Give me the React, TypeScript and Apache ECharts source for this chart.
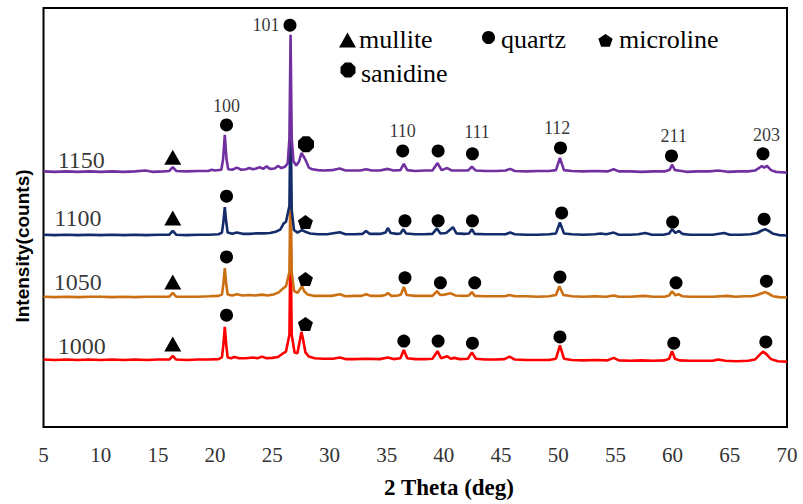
import React, { useEffect, useRef } from 'react';
import * as echarts from 'echarts';

// ---- data ----
const sampleNames = ['1000', '1050', '1100', '1150'];
const sampleOffsets = [16.0, 31.0, 45.8, 60.9];
const lineColors = ['#FF0000', '#CC6F12', '#142C6A', '#7030A0'];

const pattern1000 = [
  [5, 0.1], [6, 0.0], [7, 0.1], [8, 0.0], [9, 0.1], [10, 0.0], [11, 0.1], [12, 0.0], [13, 0.1], [14, 0.0], [15, 0.1],
  [16.0, 0.1], [16.3, 1.0], [16.6, 0.1], [17.5, 0.0], [18.5, 0.1], [19.5, 0.1], [20.3, 0.2], [20.6, 0.6], [20.72, 3.5],
  [20.85, 7.9], [20.98, 3.5], [21.1, 0.6], [21.4, 0.4], [21.7, 0.7], [22.1, 0.4], [22.7, 0.4], [23.3, 0.6], [23.7, 0.4],
  [24.1, 0.8], [24.5, 0.4], [25.0, 0.5], [25.5, 0.7], [25.9, 1.5], [26.2, 2.0], [26.5, 6.0], [26.6, 30.0], [26.7, 6.0],
  [26.95, 1.8], [27.2, 1.6], [27.4, 4.5], [27.55, 6.7], [27.7, 4.8], [27.9, 1.8], [28.2, 0.8], [28.7, 0.4], [29.4, 0.3],
  [30.3, 0.3], [30.9, 0.6], [31.4, 0.2], [32.2, 0.2], [33.2, 0.3], [34.4, 0.2], [35.1, 0.6], [35.6, 0.2], [36.2, 0.4],
  [36.5, 2.4], [36.8, 0.4], [37.5, 0.2], [38.3, 0.2], [39.0, 0.3], [39.45, 2.1], [39.75, 0.4], [40.3, 0.9], [40.6, 0.3],
  [40.9, 0.5], [41.4, 0.2], [42.1, 0.3], [42.45, 1.8], [42.8, 0.3], [43.6, 0.1], [44.6, 0.1], [45.3, 0.2], [45.75, 0.8],
  [46.2, 0.1], [47.2, 0.0], [48.2, 0.0], [49.2, 0.0], [49.8, 0.3], [50.15, 3.5], [50.5, 0.3], [51.2, 0.0], [52.2, -0.1],
  [53.2, 0.0], [54.3, -0.1], [54.85, 0.5], [55.3, -0.1], [56.3, -0.2], [57.3, -0.1], [58.3, -0.2], [59.3, -0.1],
  [59.7, 0.3], [59.95, 2.1], [60.2, 0.3], [60.6, -0.1], [61.5, -0.2], [62.5, -0.2], [63.5, -0.2], [64.0, 0.1],
  [64.6, -0.2], [65.6, -0.3], [66.6, -0.2], [67.2, 0.1], [67.6, 1.2], [67.9, 2.0], [68.2, 1.4], [68.6, 0.2],
  [69.2, -0.3], [70, -0.4],
];

const pattern1050 = [
  [5, 0.1], [6, 0.0], [7, 0.1], [8, 0.0], [9, 0.1], [10, 0.1], [11, 0.0], [12, 0.1], [13, 0.0], [14, 0.1], [15, 0.1],
  [16.0, 0.1], [16.3, 1.0], [16.6, 0.1], [17.5, 0.1], [18.5, 0.1], [19.5, 0.2], [20.3, 0.3], [20.6, 0.6], [20.72, 3.0],
  [20.85, 6.9], [20.98, 3.0], [21.1, 0.6], [21.5, 0.4], [21.9, 0.7], [22.4, 0.4], [23.0, 0.5], [23.5, 0.4], [24.1, 0.6],
  [24.6, 0.4], [25.2, 0.7], [25.6, 1.2], [26.0, 2.2], [26.2, 2.6], [26.5, 6.0], [26.6, 30.0], [26.7, 6.0], [26.9, 1.5],
  [27.2, 1.0], [27.45, 2.0], [27.6, 2.6], [27.8, 1.4], [28.1, 0.6], [28.6, 0.3], [29.3, 0.3], [30.2, 0.3], [30.9, 0.7],
  [31.4, 0.2], [32.2, 0.3], [32.8, 0.3], [33.2, 0.7], [33.6, 0.3], [34.5, 0.3], [34.9, 0.5], [35.1, 1.0], [35.4, 0.3],
  [36.0, 0.4], [36.25, 0.6], [36.5, 2.4], [36.75, 0.5], [37.5, 0.3], [38.3, 0.3], [39.0, 0.3], [39.4, 1.4], [39.7, 0.5],
  [40.1, 0.6], [40.6, 0.9], [41.0, 0.4], [41.8, 0.3], [42.2, 0.4], [42.45, 1.2], [42.7, 0.3], [43.6, 0.2], [44.6, 0.2],
  [45.3, 0.2], [45.75, 0.5], [46.2, 0.2], [47.2, 0.2], [48.2, 0.1], [49.2, 0.2], [49.8, 0.5], [50.1, 2.6], [50.45, 0.5],
  [51.2, 0.2], [52.2, 0.1], [53.2, 0.2], [54.2, 0.1], [54.85, 0.4], [55.3, 0.1], [56.3, 0.1], [57.5, 0.3], [58.3, 0.1],
  [59.3, 0.1], [59.7, 0.4], [59.95, 1.4], [60.25, 0.4], [60.5, 0.7], [60.85, 0.2], [61.5, 0.1], [62.5, 0.1], [63.5, 0.1],
  [64.8, 0.3], [65.5, 0.1], [66.3, 0.2], [66.9, 0.2], [67.4, 0.5], [67.8, 0.9], [68.1, 1.2], [68.4, 0.8], [68.8, 0.2],
  [69.3, 0.0], [70, -0.1],
];

const pattern1100 = [
  [5, 0.1], [6, 0.0], [7, 0.1], [8, 0.0], [9, 0.1], [10, 0.0], [11, 0.1], [12, 0.0], [13, 0.1], [14, 0.0], [15, 0.1],
  [16.0, 0.1], [16.3, 1.0], [16.6, 0.1], [17.5, 0.0], [18.5, 0.1], [19.5, 0.1], [20.3, 0.2], [20.6, 0.6], [20.72, 3.0],
  [20.85, 6.7], [20.98, 3.0], [21.1, 0.6], [21.5, 0.3], [21.9, 0.6], [22.4, 0.3], [23.0, 0.3], [23.5, 0.4], [24.2, 0.4],
  [24.8, 0.5], [25.3, 0.8], [25.7, 1.3], [26.0, 2.8], [26.2, 3.2], [26.5, 7.0], [26.6, 31.0], [26.7, 6.0], [26.9, 1.2],
  [27.2, 0.6], [27.6, 1.2], [27.9, 0.8], [28.3, 0.4], [29.0, 0.2], [29.8, 0.2], [30.9, 0.7], [31.4, 0.2], [32.2, 0.2],
  [32.9, 0.3], [33.2, 1.0], [33.5, 0.3], [34.5, 0.3], [34.9, 0.6], [35.1, 1.7], [35.35, 0.5], [35.9, 0.3], [36.2, 0.4],
  [36.45, 1.4], [36.7, 0.4], [37.5, 0.2], [38.3, 0.2], [39.0, 0.3], [39.4, 1.6], [39.7, 0.4], [40.2, 0.5], [40.8, 1.9],
  [41.1, 0.4], [41.8, 0.3], [42.2, 0.4], [42.45, 1.4], [42.7, 0.3], [43.6, 0.2], [44.6, 0.2], [45.4, 0.2], [45.8, 0.6],
  [46.2, 0.2], [47.2, 0.1], [48.2, 0.1], [49.2, 0.2], [49.8, 0.4], [50.15, 3.0], [50.5, 0.4], [51.2, 0.2], [52.2, 0.1],
  [53.2, 0.2], [53.7, 0.4], [54.2, 0.2], [54.85, 0.6], [55.3, 0.1], [56.3, 0.1], [57.0, 0.2], [57.6, 0.5], [58.2, 0.1],
  [59.2, 0.1], [59.7, 0.4], [59.95, 1.4], [60.25, 0.5], [60.55, 1.0], [60.85, 0.3], [61.5, 0.1], [62.5, 0.1],
  [63.5, 0.1], [64.5, 0.5], [65.0, 0.1], [66.0, 0.1], [66.8, 0.2], [67.4, 0.5], [67.8, 1.1], [68.1, 1.4], [68.4, 1.0],
  [68.8, 0.3], [69.3, 0.0], [70, -0.1],
];

const pattern1150 = [
  [5, 0.1], [6, 0.0], [7, 0.1], [8, 0.0], [9, 0.1], [10, 0.0], [11, 0.1], [12, 0.0], [13, 0.1], [13.9, 0.3], [14.5, 0.0],
  [15.5, 0.1], [16.0, 0.2], [16.3, 1.1], [16.6, 0.2], [17.5, 0.1], [18.5, 0.2], [19.4, 0.2], [19.7, 0.5], [20.0, 0.3],
  [20.55, 0.5], [20.7, 3.0], [20.85, 8.8], [21.0, 3.0], [21.15, 0.6], [21.5, 0.5], [21.9, 1.0], [22.3, 0.5], [22.7, 0.6],
  [23.0, 0.9], [23.3, 0.6], [23.6, 0.8], [23.9, 1.1], [24.2, 0.7], [24.5, 1.3], [24.8, 0.7], [25.2, 0.8], [25.5, 1.4],
  [25.8, 0.9], [26.1, 1.2], [26.35, 2.0], [26.5, 8.0], [26.6, 32.7], [26.7, 8.0], [26.85, 2.5], [27.1, 1.5],
  [27.35, 2.5], [27.55, 4.5], [27.75, 3.6], [27.95, 2.6], [28.2, 1.0], [28.5, 0.6], [29.0, 0.4], [29.5, 0.3],
  [30.2, 0.4], [30.9, 0.8], [31.4, 0.3], [32.0, 0.3], [32.7, 0.3], [33.2, 0.6], [33.7, 0.3], [34.4, 0.3], [35.1, 0.7],
  [35.6, 0.3], [36.2, 0.4], [36.5, 1.9], [36.8, 0.4], [37.5, 0.2], [38.3, 0.3], [39.0, 0.3], [39.45, 2.1], [39.8, 0.4],
  [40.3, 0.9], [40.7, 0.3], [41.4, 0.3], [42.1, 0.3], [42.45, 1.2], [42.8, 0.3], [43.6, 0.2], [44.6, 0.2], [45.4, 0.3],
  [45.8, 0.7], [46.2, 0.2], [47.2, 0.1], [48.2, 0.2], [49.2, 0.2], [49.8, 0.4], [50.15, 3.3], [50.5, 0.4], [51.2, 0.2],
  [52.2, 0.1], [53.2, 0.2], [54.3, 0.1], [54.85, 0.6], [55.3, 0.1], [56.3, 0.1], [57.3, 0.0], [58.3, 0.1], [59.3, 0.1],
  [59.75, 0.5], [59.95, 1.7], [60.2, 0.4], [60.5, 0.3], [61.2, 0.0], [62.2, 0.1], [63.2, 0.1], [64.0, 0.3], [64.8, 0.0],
  [65.8, 0.1], [66.6, 0.1], [67.2, 0.3], [67.5, 0.8], [67.8, 1.4], [68.0, 1.0], [68.25, 1.4], [68.6, 0.4], [69.0, 0.0],
  [69.5, -0.1], [70, -0.2],
];

const patterns = [pattern1000, pattern1050, pattern1100, pattern1150];

const phaseNames = ['mullite', 'quartz', 'microline', 'sanidine'];
const mulliteMarks = [[16.3, 19.8], [16.3, 34.6], [16.3, 49.9], [16.3, 64.4]];
const quartzMarks = [
  [21.0, 26.7], [36.5, 20.5], [39.5, 20.5], [42.5, 20.0], [50.15, 21.5], [60.1, 20.0], [68.15, 20.3],
  [21.0, 40.6], [36.6, 35.6], [39.7, 34.4], [42.7, 34.4], [50.15, 35.8], [60.3, 34.4], [68.2, 34.8],
  [21.0, 55.1], [36.6, 49.2], [39.5, 49.2], [42.5, 49.2], [50.3, 51.1], [60.0, 48.9], [68.0, 49.6],
  [21.0, 72.1], [26.55, 95.9], [36.4, 65.9], [39.5, 65.9], [42.5, 65.2], [50.2, 66.6], [59.9, 64.7], [67.9, 65.2],
];
const microlineMarks = [[27.9, 24.6], [27.9, 35.3], [27.9, 48.9]];
const sanidineMarks = [[27.95, 67.5]];

const hklLabels = ['100', '101', '110', '111', '112', '211', '203'];
const hklPositions = [[21.0, 76.6], [24.45, 95.9], [36.4, 70.6], [42.9, 70.4], [49.9, 71.4], [60.1, 69.5], [68.2, 69.7]];
const sampleLabelPositions = [[6.2, 19.3], [5.85, 34.6], [5.9, 49.9], [6.2, 63.7]];

const xTickMin = 5;
const xTickMax = 70;
const xTickStep = 5;

const PENTAGON = 'path://M0,-1L0.951,-0.309L0.588,0.809L-0.588,0.809L-0.951,-0.309Z';
const OCTAGON = 'path://M-0.4,-1L0.4,-1L1,-0.4L1,0.4L0.4,1L-0.4,1L-1,0.4L-1,-0.4Z';

const TRI_UNIT = [[-1, 1], [0, -1], [1, 1]];
const PENT_UNIT = [[0, -1], [0.951, -0.309], [0.588, 0.809], [-0.588, 0.809], [-0.951, -0.309]];
const OCT_UNIT = [[-0.4, -1], [0.4, -1], [1, -0.4], [1, 0.4], [0.4, 1], [-0.4, 1], [-1, 0.4], [-1, -0.4]];

function box(unit: number[][], cx: number, cy: number, w: number, h: number) {
  return unit.map(([u, v]) => [cx + (u * w) / 2, cy + (v * h) / 2]);
}

export default function App() {
  const ref = useRef<HTMLDivElement>(null);

  useEffect(() => {
    if (!ref.current) return;
    document.body.style.margin = '0';
    const chart = echarts.init(ref.current, null, { renderer: 'svg' });

    const lineSeries = patterns.map((pat, i) => ({
      name: sampleNames[i],
      type: 'line',
      data: pat.map(([x, y]) => [x, y + sampleOffsets[i]]),
      showSymbol: false,
      symbol: 'none',
      lineStyle: { color: lineColors[i], width: 2.6 },
      itemStyle: { color: lineColors[i] },
      z: 2 + i,
      silent: true,
    }));

    const markerBase = { type: 'scatter', z: 10, silent: true, itemStyle: { color: '#000', opacity: 1 } };

    const serif = "'Liberation Serif', 'Times New Roman', serif";
    const legendText = (text: string, x: number, y: number) => ({
      type: 'text', x, y,
      style: {
        text, font: "26px 'Liberation Serif', 'Times New Roman', serif",
        fontFamily: serif, fontSize: 26,
        fill: '#000', align: 'left', verticalAlign: 'middle',
      },
    });

    const option = {
      animation: false,
      backgroundColor: '#fff',
      textStyle: { fontFamily: serif },
      grid: {
        left: 43.5, right: 16, top: 8, bottom: 77,
        show: true, borderColor: '#000', borderWidth: 2, backgroundColor: 'transparent',
      },
      xAxis: {
        type: 'value', min: xTickMin, max: xTickMax, interval: xTickStep,
        axisLine: { show: false }, axisTick: { show: false }, splitLine: { show: false },
        axisLabel: { color: '#333', fontSize: 21, fontFamily: serif, margin: 17 },
      },
      yAxis: {
        type: 'value', min: 0, max: 100,
        axisLine: { show: false }, axisTick: { show: false }, splitLine: { show: false },
        axisLabel: { show: false },
      },
      graphic: [
        { type: 'polygon', shape: { points: box(TRI_UNIT, 347.5, 40, 17, 15) }, style: { fill: '#000' } },
        legendText(phaseNames[0], 359, 39),
        { type: 'circle', shape: { cx: 488.5, cy: 37.5, r: 6.5 }, style: { fill: '#000' } },
        legendText(phaseNames[1], 501, 39),
        { type: 'polygon', shape: { points: box(PENT_UNIT, 605.5, 41, 15, 14) }, style: { fill: '#000' } },
        legendText(phaseNames[2], 619, 39),
        { type: 'polygon', shape: { points: box(OCT_UNIT, 348, 70, 15, 15) }, style: { fill: '#000' } },
        legendText(phaseNames[3], 361, 73),
        {
          type: 'text', x: 22.5, y: 246, rotation: Math.PI / 2,
          style: {
            text: 'Intensity(counts)', fontFamily: "'Liberation Sans', Arial, sans-serif", fontWeight: 'bold',
            fontSize: 19, fill: '#000', align: 'center', verticalAlign: 'middle',
          },
        },
        {
          type: 'text', x: 449, y: 487,
          style: {
            text: '2 Theta (deg)', fontFamily: serif, fontWeight: 'bold', fontSize: 23,
            fill: '#000', align: 'center', verticalAlign: 'middle',
          },
        },
      ],
      series: [
        ...lineSeries,
        { ...markerBase, name: phaseNames[0], symbol: 'triangle', symbolSize: [17, 15], data: mulliteMarks },
        { ...markerBase, name: phaseNames[1], symbol: 'circle', symbolSize: 13, data: quartzMarks },
        { ...markerBase, name: phaseNames[2], symbol: PENTAGON, symbolSize: [15, 14], data: microlineMarks },
        { ...markerBase, name: phaseNames[3], symbol: OCTAGON, symbolSize: 16, data: sanidineMarks },
        {
          type: 'scatter', name: 'hkl', z: 11, silent: true, symbolSize: 1,
          itemStyle: { color: 'rgba(0,0,0,0)' },
          data: hklPositions.map((p, i) => ({ value: p, name: hklLabels[i] })),
          label: {
            show: true, position: 'inside', formatter: '{b}', color: '#000',
            fontFamily: serif, fontSize: 18, align: 'center', verticalAlign: 'middle',
          },
        },
        {
          type: 'scatter', name: 'samples', z: 11, silent: true, symbolSize: 1,
          itemStyle: { color: 'rgba(0,0,0,0)' },
          data: sampleLabelPositions.map((p, i) => ({ value: p, name: sampleNames[i] })),
          label: {
            show: true, position: 'right', distance: 0, formatter: '{b}', color: '#000',
            fontFamily: serif, fontSize: 24,
          },
        },
      ],
    };

    chart.setOption(option as any);
    return () => chart.dispose();
  }, []);

  return <div ref={ref} style={{ width: 803, height: 504 }} />;
}
